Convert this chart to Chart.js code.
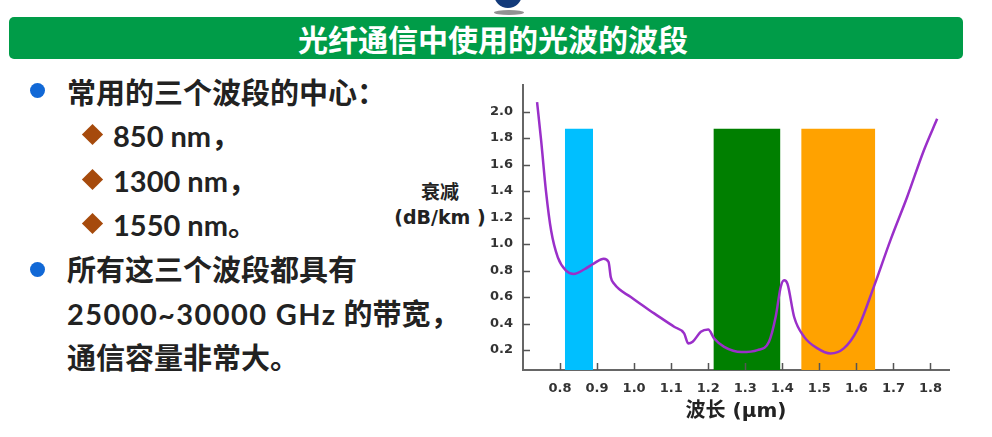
<!DOCTYPE html>
<html lang="zh">
<head>
<meta charset="UTF-8">
<script src="https://cdn.jsdelivr.net/npm/chart.js"></script>
<title>光纤通信中使用的光波的波段</title>
<style>
    body { margin: 0; width: 992px; height: 437px; background: #fff; position: relative; overflow: hidden;
           font-family: Lato, "Noto Sans CJK SC", sans-serif; color: #222; }
    .logo { position: absolute; left: 494px; top: -8px; width: 28px; height: 16px; background: #123a7a;
            border-radius: 0 0 14px 14px; }
    .logo-shadow { position: absolute; left: 494px; top: 10px; width: 30px; height: 5px; background: #777;
                   border-radius: 50%; opacity: 0.8; }
    .title-bar { position: absolute; left: 9px; top: 17px; width: 940px; height: 42px; background: #009c48;
                 border-radius: 5px; color: #fff; font-weight: bold; font-size: 30px; line-height: 42px;
                 text-align: center; font-family: "Noto Sans CJK SC", sans-serif; padding-left: 14px; }
    .line { position: absolute; font-weight: bold; font-size: 29px; white-space: nowrap; line-height: 1; }
    .wide { letter-spacing: 1.4px; }
    .dot { position: absolute; width: 15px; height: 15px; border-radius: 50%; background: #1168d6; }
    .diamond { position: absolute; width: 15px; height: 15px; background: #a64a0c; transform: rotate(45deg); }
    .ytitle { position: absolute; font-weight: bold; font-size: 19px; text-align: center; line-height: 25px;
              width: 120px; font-family: "DejaVu Sans", "Noto Sans CJK SC", sans-serif; }
    #chart { position: absolute; left: 470px; top: 75px; }
</style>
</head>
<body>
<div class="logo"></div>
<div class="logo-shadow"></div>
<div class="title-bar">光纤通信中使用的光波的波段</div>

<div class="dot" style="left:30px; top:83px;"></div>
<div class="line" style="left:67px; top:78px;">常用的三个波段的中心：</div>
<div class="diamond" style="left:85px; top:127px;"></div>
<div class="line" style="left:113px; top:121px;">850 nm，</div>
<div class="diamond" style="left:85px; top:172px;"></div>
<div class="line" style="left:113px; top:166px;">1300 nm，</div>
<div class="diamond" style="left:85px; top:216px;"></div>
<div class="line" style="left:113px; top:210px;">1550 nm。</div>
<div class="dot" style="left:30px; top:262px;"></div>
<div class="line" style="left:67px; top:255px;">所有这三个波段都具有</div>
<div class="line" style="left:67px; top:299px;"><span class="wide">25000~30000 GHz</span> 的带宽，</div>
<div class="line" style="left:67px; top:343px;">通信容量非常大。</div>

<div class="ytitle" style="left:380px; top:180px;">衰减<br>(dB/km )</div>

<canvas id="chart" width="500" height="362"></canvas>

<script>
    // attenuation curve
    var wavelength = [0.738, 0.749, 0.762, 0.776, 0.794, 0.816, 0.837, 0.866, 0.892, 0.918, 0.931, 0.937,
        0.946, 0.991, 1.054, 1.108, 1.135, 1.146, 1.158, 1.180, 1.200, 1.216, 1.243, 1.290, 1.333, 1.364,
        1.382, 1.396, 1.405, 1.414, 1.432, 1.459, 1.495, 1.530, 1.566, 1.602, 1.647, 1.692, 1.737, 1.782, 1.818];
    var attenuation = [2.07, 1.78, 1.40, 1.10, 0.90, 0.80, 0.775, 0.81, 0.855, 0.89, 0.865, 0.75,
        0.70, 0.60, 0.477, 0.376, 0.326, 0.25, 0.263, 0.338, 0.355, 0.288, 0.225, 0.185, 0.20, 0.263,
        0.45, 0.68, 0.727, 0.70, 0.45, 0.30, 0.213, 0.175, 0.213, 0.351, 0.677, 1.03, 1.355, 1.706, 1.945];

    // the three windows
    var bandStart = [0.813, 1.214, 1.451];
    var bandEnd = [0.889, 1.395, 1.651];
    var bandTop = 1.87;
    var bandColors = ['#00bfff', '#007f00', '#ffa200'];

    var xTicks = [0.8, 0.9, 1.0, 1.1, 1.2, 1.3, 1.4, 1.5, 1.6, 1.7, 1.8];
    var yTicks = [0.2, 0.4, 0.6, 0.8, 1.0, 1.2, 1.4, 1.6, 1.8, 2.0];

    var datasets = [{
        data: wavelength.map(function (x, i) { return { x: x, y: attenuation[i] }; }),
        borderColor: '#9a2fc9',
        borderWidth: 2.5,
        pointRadius: 0,
        cubicInterpolationMode: 'monotone',
        fill: false,
        order: 0
    }];
    bandStart.forEach(function (s, i) {
        datasets.push({
            data: [{ x: s, y: bandTop }, { x: bandEnd[i], y: bandTop }],
            borderWidth: 0,
            pointRadius: 0,
            backgroundColor: bandColors[i],
            fill: 'origin',
            order: 1
        });
    });

    // small tick marks pointing into the plot
    var innerTicks = {
        id: 'innerTicks',
        afterDraw: function (chart) {
            var ctx = chart.ctx, x = chart.scales.x, y = chart.scales.y;
            ctx.save();
            ctx.strokeStyle = '#555';
            ctx.lineWidth = 1.5;
            ctx.beginPath();
            xTicks.forEach(function (v) {
                var px = Math.round(x.getPixelForValue(v)) + 0.5;
                ctx.moveTo(px, y.bottom);
                ctx.lineTo(px, y.bottom - 7);
            });
            yTicks.forEach(function (v) {
                var py = Math.round(y.getPixelForValue(v)) + 0.5;
                ctx.moveTo(x.left, py);
                ctx.lineTo(x.left + 7, py);
            });
            ctx.stroke();
            ctx.restore();
        }
    };

    Chart.defaults.font.family = "'DejaVu Sans', sans-serif";
    Chart.defaults.font.weight = 'bold';
    Chart.defaults.font.size = 13;
    Chart.defaults.color = '#333';

    new Chart(document.getElementById('chart'), {
        type: 'line',
        data: { datasets: datasets },
        options: {
            responsive: false,
            animation: false,
            layout: { padding: { left: 0, right: 21, top: 10, bottom: 0 } },
            plugins: { legend: { display: false }, tooltip: { enabled: false } },
            scales: {
                x: {
                    type: 'linear',
                    min: 0.70,
                    max: 1.85,
                    grid: { display: false },
                    border: { color: '#666', width: 2 },
                    afterBuildTicks: function (s) { s.ticks = xTicks.map(function (v) { return { value: v }; }); },
                    ticks: {
                        padding: 3,
                        autoSkip: false,
                        maxRotation: 0,
                        callback: function (v) { return v.toFixed(1); }
                    },
                    title: {
                        display: true,
                        text: '波长 (μm)',
                        color: '#222',
                        font: { family: "'DejaVu Sans', 'Noto Sans CJK SC', sans-serif", size: 20, weight: 'bold' },
                        padding: { top: 0, bottom: 13 }
                    },
                    afterFit: function (s) { s.height = 67; }
                },
                y: {
                    min: 0.05,
                    max: 2.2,
                    grid: { display: false },
                    border: { color: '#666', width: 2 },
                    afterBuildTicks: function (s) { s.ticks = yTicks.map(function (v) { return { value: v }; }); },
                    ticks: {
                        padding: 2,
                        callback: function (v) { return v.toFixed(1); }
                    },
                    afterFit: function (s) { s.width = 53; }
                }
            }
        },
        plugins: [innerTicks]
    });
</script>
</body>
</html>
